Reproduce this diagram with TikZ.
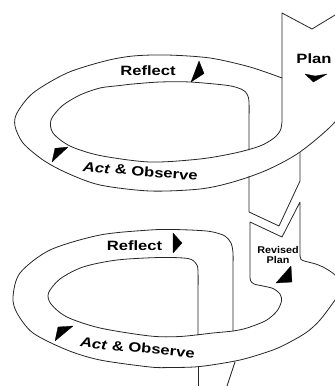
\documentclass[tikz,border=0pt]{standalone}
\usepackage{fontspec}
\setmainfont[FakeStretch=1.23]{Liberation Sans}
\newfontfamily\revfont[FakeStretch=1.1]{Liberation Sans}
\begin{document}
\begin{tikzpicture}[x=1pt,y=-1pt,
  edge/.style={draw=black!85, line width=0.8pt, line join=round, line cap=round},
  head/.style={fill=black, draw=black, line width=0.3pt, line join=round},
  lbl/.style={font=\fontsize{13.5}{15}\selectfont\bfseries, inner sep=0pt, anchor=base},
  rlbl/.style={font=\revfont\fontsize{9.8}{11}\selectfont\bfseries, inner sep=0pt, anchor=base}]
\useasboundingbox (0,0) rectangle (335,386);
\clip (0,0) rectangle (335,386);

% ---------- first loop ----------
% inner edge of first loop, joined to the left edge of the Plan band
\draw[edge] plot[smooth, tension=0.5] coordinates {(249,150) (249,125) (249,102) (247,94) (242,89.5) (228,85.5) (190,82) (160,82) (133,84) (120,85.5) (100,88) (80,95) (62,106) (51,120) (53,133) (70,146) (100,155.5) (150,162) (200,159) (235,153) (260,146) (274,138) (280.5,130) (282,121)}
  -- (282,13) -- (312,29) -- (345,9);
% outer edge of first loop
\draw[edge] plot[smooth, tension=0.5] coordinates {(282,78) (250,67) (210,58) (167,55) (133,56) (105,61) (67,73) (33,93) (17,113) (15,126) (23,143) (43,160) (67,173) (100,185) (150,191) (200,189) (233,182) (267,170) (300,152) (335,122) (350,95)};
% strip leaving the first loop, with its lower chevron
\draw[edge] (249,176.5) -- (249,212) -- (279,226) -- (300,181) -- (300,152.5);

% ---------- second loop ----------
\draw[edge] plot[smooth, tension=0.5] coordinates {(198,335) (198,300) (198,271) (196,263.5) (188,258.5) (160,257.5) (117,260) (83,267) (60,279) (48.5,293) (51,304) (67,317) (100,328) (150,336) (180,336.5) (213,333) (233,331) (247,328) (266,320.5) (277,311) (281.5,301) (280,294) (273,288.5) (263,286) (254,284) (250.5,280.5) (250,276)}
  -- (250,222) -- (282,237) -- (300,202) -- (300,255);
\draw[edge] plot[smooth, tension=0.5] coordinates {(300,255) (301,259.5) (306,261.5) (314,263.5) (323,267) (335,275) (342,287) (335,300) (320,320) (307,332) (290,342) (273,350) (240,360) (200,366.5) (170,367.5) (150,367) (100,360) (67,350) (33,333) (17,313) (13,297) (20,273) (50,250) (100,235) (150,230) (173,229.5) (200,230.5) (213,232) (225,236) (231,243) (233,253) (233,270) (233,300) (233,331)};
% strip leaving the second loop
\draw[edge] (198,367) -- (198,392);
\draw[edge] (235,362) -- (225,392);

% ---------- arrowheads ----------
\fill[head] (199,61) -- (204,73.5) -- (191,82) -- cycle;
\fill[head] (305,74) -- (315,76) -- (327,74) -- (313.5,82) -- cycle;
\fill[head] (52,162) -- (68,147) -- (55,148.3) -- cycle;
\fill[head] (173,233) -- (182,243) -- (173,253) -- cycle;
\fill[head] (276,283) -- (291,266) -- (292,282) -- cycle;
\fill[head] (55,341) -- (73,326) -- (58,327) -- cycle;

% ---------- labels ----------
\node[lbl] (r1) at (148,75) {Reflect};
\node[lbl] (r2) at (134.5,250) {Reflect};
\node[lbl] (pl) at (314,63) {Plan};
\node[lbl, rotate=-4.5] (ao1) at (140,176) {\textit{Act} \& Observe};
\node[lbl, rotate=-5.5] (ao2) at (137,352.5) {\textit{Act} \& Observe};
\node[rlbl] (rv) at (278,253) {Revised};
\node[rlbl] (rp) at (278,263) {Plan};
\end{tikzpicture}
\end{document}
